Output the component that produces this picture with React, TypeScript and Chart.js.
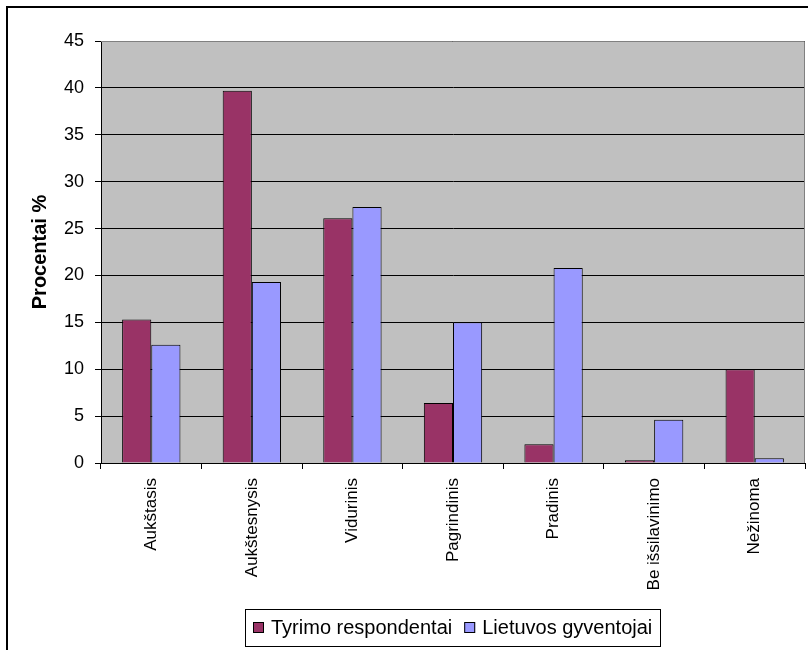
import { useEffect, useRef } from "react";
import { Chart, registerables } from "chart.js";

Chart.register(...registerables);

// Education level categories
const categories = [
  "Aukštasis",
  "Aukštesnysis",
  "Vidurinis",
  "Pagrindinis",
  "Pradinis",
  "Be išsilavinimo",
  "Nežinoma",
];

// Share of each group, percent
const respondents = [15.3, 39.7, 26.1, 6.4, 2.0, 0.3, 10.0];
const population = [12.6, 19.3, 27.3, 15.0, 20.8, 4.6, 0.5];

const seriesNames = ["Tyrimo respondentai", "Lietuvos gyventojai"];
const seriesColors = ["#993366", "#9999FF"];

const yTitle = "Procentai %";
const yMin = 0;
const yMax = 45;
const yStep = 5;

const FONT = "'Liberation Sans', Arial, Helvetica, sans-serif";
const PLOT_BG = "#C0C0C0";

const plotDecor = {
  id: "plotDecor",
  beforeDraw(chart: any) {
    const { ctx, chartArea, width, height } = chart;
    ctx.save();
    ctx.fillStyle = "#FFFFFF";
    ctx.fillRect(0, 0, width, height);
    ctx.fillStyle = PLOT_BG;
    ctx.fillRect(
      chartArea.left,
      chartArea.top,
      chartArea.right - chartArea.left,
      chartArea.bottom - chartArea.top
    );
    ctx.restore();
  },
  beforeDatasetsDraw(chart: any) {
    // grey frame on the open sides of the plot area
    const { ctx, chartArea } = chart;
    ctx.save();
    ctx.strokeStyle = "#808080";
    ctx.lineWidth = 1;
    ctx.beginPath();
    ctx.moveTo(chartArea.left, Math.round(chartArea.top) + 0.5);
    ctx.lineTo(Math.round(chartArea.right) - 0.5, Math.round(chartArea.top) + 0.5);
    ctx.lineTo(Math.round(chartArea.right) - 0.5, chartArea.bottom);
    ctx.stroke();
    ctx.restore();
  },
  afterDraw(chart: any) {
    const { ctx, chartArea } = chart;
    ctx.save();

    // outer chart frame
    ctx.strokeStyle = "#000000";
    ctx.lineWidth = 2;
    ctx.beginPath();
    ctx.moveTo(7, chart.height + 5);
    ctx.lineTo(7, 7);
    ctx.lineTo(chart.width + 5, 7);
    ctx.stroke();

    // boxed legend centred under the plot area
    ctx.font = `20px ${FONT}`;
    const items = chart.data.datasets.map((ds: any) => ({
      label: ds.label as string,
      color: ds.backgroundColor as string,
      w: ctx.measureText(ds.label).width,
    }));
    const sq = 11;
    const gapSq = 7;
    const gapItem = 12;
    const pad = 8;
    const total =
      pad * 2 +
      items.reduce((s: number, it: any) => s + sq + gapSq + it.w, 0) +
      gapItem * (items.length - 1);
    const cx = (chartArea.left + chartArea.right) / 2;
    const left = Math.round(cx - total / 2);
    const top = 609;
    const h = 37;
    ctx.fillStyle = "#FFFFFF";
    ctx.fillRect(left, top, total, h);
    ctx.strokeStyle = "#000000";
    ctx.lineWidth = 1;
    ctx.strokeRect(left + 0.5, top + 0.5, Math.round(total), h);

    const midY = top + h / 2;
    let x = left + pad;
    ctx.textBaseline = "middle";
    ctx.textAlign = "left";
    items.forEach((it: any, i: number) => {
      ctx.fillStyle = it.color;
      ctx.fillRect(x, Math.round(midY - sq / 2), sq, sq);
      ctx.strokeStyle = "#000000";
      ctx.strokeRect(x + 0.5, Math.round(midY - sq / 2) + 0.5, sq - 1, sq - 1);
      x += sq + gapSq;
      ctx.fillStyle = "#000000";
      ctx.fillText(it.label, x, midY + 1);
      x += it.w + (i < items.length - 1 ? gapItem : 0);
    });

    ctx.restore();
  },
};

export default function App() {
  const canvasRef = useRef<HTMLCanvasElement | null>(null);

  useEffect(() => {
    if (!canvasRef.current) return;
    const chart = new Chart(canvasRef.current, {
      type: "bar",
      data: {
        labels: categories,
        datasets: [
          {
            label: seriesNames[0],
            data: respondents,
            backgroundColor: seriesColors[0],
            borderColor: "#000000",
            borderWidth: 1,
            categoryPercentage: 0.58,
            barPercentage: 1.0,
          },
          {
            label: seriesNames[1],
            data: population,
            backgroundColor: seriesColors[1],
            borderColor: "#000000",
            borderWidth: 1,
            categoryPercentage: 0.58,
            barPercentage: 1.0,
          },
        ],
      },
      options: {
        animation: false,
        responsive: false,
        devicePixelRatio: 1,
        layout: { padding: { left: 0, top: 41, right: 3, bottom: 0 } },
        plugins: {
          legend: { display: false },
          tooltip: { enabled: false },
          title: { display: false },
        },
        scales: {
          x: {
            afterFit: (scale: any) => {
              scale.height = 187;
            },
            grid: {
              offset: true,
              drawOnChartArea: false,
              drawTicks: true,
              tickLength: 6,
              color: "#000000",
              lineWidth: 1,
            },
            border: { display: true, color: "#000000", width: 1 },
            ticks: {
              color: "#000000",
              font: { family: FONT, size: 17 },
              minRotation: 90,
              maxRotation: 90,
              autoSkip: false,
              padding: 9,
            },
          },
          y: {
            min: yMin,
            max: yMax,
            afterFit: (scale: any) => {
              scale.width = 101;
            },
            grid: {
              color: "#000000",
              lineWidth: 1,
              drawTicks: true,
              tickLength: 6,
            },
            border: { display: true, color: "#000000", width: 1 },
            ticks: {
              stepSize: yStep,
              color: "#000000",
              font: { family: FONT, size: 18 },
              padding: 11,
            },
            title: {
              display: true,
              text: yTitle,
              color: "#000000",
              font: { family: FONT, size: 20, weight: "bold" },
              padding: { top: 28, bottom: 0 },
            },
          },
        },
      },
      plugins: [plotDecor],
    });
    return () => chart.destroy();
  }, []);

  return (
    <div
      style={{
        position: "fixed",
        left: 0,
        top: 0,
        width: 808,
        height: 650,
        background: "#FFFFFF",
      }}
    >
      <canvas
        ref={canvasRef}
        width={808}
        height={650}
        style={{ display: "block", width: 808, height: 650 }}
      />
    </div>
  );
}
